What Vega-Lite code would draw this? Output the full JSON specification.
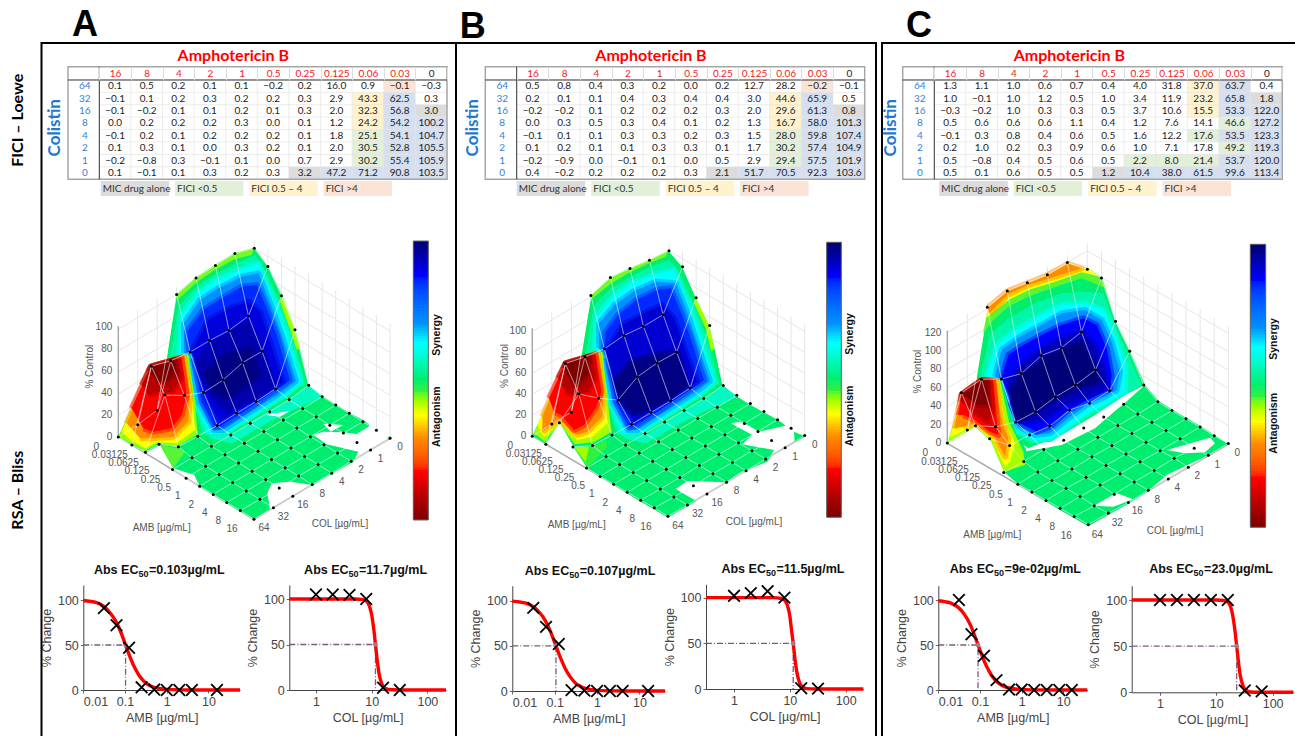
{"$schema":"https://vega.github.io/schema/vega-lite/v6.json","width":1295,"height":736,"autosize":"none","padding":0,"background":"white",
"config":{"view":{"stroke":null},"axis":{"grid":false,"domainColor":"#444","tickColor":"#666","tickSize":3,"labelOverlap":false}},
"datasets":{
"one":[{}],
"bar":[{"t":[0,1,2,3,4,5,6,7,8,9,10,11,12,13,14,15,16,17,18,19,20,21,22,23,24,25,26,27,28,29,30,31,32,33,34,35,36,37,38,39,40,41,42,43,44,45,46,47,48,49,50,51,52,53,54,55,56,57,58,59,60,61,62,63,64,65,66,67,68,69,70,71,72,73,74,75,76,77,78,79,80,81,82,83,84,85,86,87,88,89,90,91,92,93,94,95,96,97,98,99],"e":[2,3,4,5,6,7,8,9,10,11,12,13,14,15,16,17,18,19,20,21,22,23,24,25,26,27,28,29,30,31,32,33,34,35,36,37,38,39,40,41,42,43,44,45,46,47,48,49,50,51,52,53,54,55,56,57,58,59,60,61,62,63,64,65,66,67,68,69,70,71,72,73,74,75,76,77,78,79,80,81,82,83,84,85,86,87,88,89,90,91,92,93,94,95,96,97,98,99,100,100]}],
"chips":[{"t":"MIC drug alone","k":1,"g":"l"},{"t":"FICI <0.5","k":2,"g":"l"},{"t":"FICI 0.5 – 4","k":3,"g":"l"},{"t":"FICI >4","k":4,"g":"l"}],
"tA":[
{"c":"64","j":7,"a":["16","8","4","2","1","0.5","0.25","0.125","0.06","0.03","0"],"i":[10,9,8,7,6,5,4,3,2,1,0],"v":[0.1,0.5,0.2,0.1,0.1,-0.2,0.2,16.0,0.9,-0.1,-0.3],"k":[0,0,0,0,0,0,0,0,0,4,0]},
{"c":"32","j":6,"a":["16","8","4","2","1","0.5","0.25","0.125","0.06","0.03","0"],"i":[10,9,8,7,6,5,4,3,2,1,0],"v":[-0.1,0.1,0.2,0.3,0.2,0.2,0.3,2.9,43.3,62.5,0.3],"k":[0,0,0,0,0,0,0,0,3,5,0]},
{"c":"16","j":5,"a":["16","8","4","2","1","0.5","0.25","0.125","0.06","0.03","0"],"i":[10,9,8,7,6,5,4,3,2,1,0],"v":[-0.1,-0.2,0.1,0.1,0.2,0.1,0.3,2.0,32.3,56.8,3.0],"k":[0,0,0,0,0,0,0,0,3,5,1]},
{"c":"8","j":4,"a":["16","8","4","2","1","0.5","0.25","0.125","0.06","0.03","0"],"i":[10,9,8,7,6,5,4,3,2,1,0],"v":[0.0,0.2,0.2,0.2,0.3,0.0,0.1,1.2,24.2,54.2,100.2],"k":[0,0,0,0,0,0,0,0,3,5,5]},
{"c":"4","j":3,"a":["16","8","4","2","1","0.5","0.25","0.125","0.06","0.03","0"],"i":[10,9,8,7,6,5,4,3,2,1,0],"v":[-0.1,0.2,0.1,0.2,0.2,0.2,0.1,1.8,25.1,54.1,104.7],"k":[0,0,0,0,0,0,0,0,2,5,5]},
{"c":"2","j":2,"a":["16","8","4","2","1","0.5","0.25","0.125","0.06","0.03","0"],"i":[10,9,8,7,6,5,4,3,2,1,0],"v":[0.1,0.3,0.1,0.0,0.3,0.2,0.1,2.0,30.5,52.8,105.5],"k":[0,0,0,0,0,0,0,0,2,5,5]},
{"c":"1","j":1,"a":["16","8","4","2","1","0.5","0.25","0.125","0.06","0.03","0"],"i":[10,9,8,7,6,5,4,3,2,1,0],"v":[-0.2,-0.8,0.3,-0.1,0.1,0.0,0.7,2.9,30.2,55.4,105.9],"k":[0,0,0,0,0,0,0,0,2,5,5]},
{"c":"0","j":0,"a":["16","8","4","2","1","0.5","0.25","0.125","0.06","0.03","0"],"i":[10,9,8,7,6,5,4,3,2,1,0],"v":[0.1,-0.1,0.1,0.3,0.2,0.3,3.2,47.2,71.2,90.8,103.5],"k":[0,0,0,0,0,0,1,5,5,5,5]}],
"tB":[
{"c":"64","j":7,"a":["16","8","4","2","1","0.5","0.25","0.125","0.06","0.03","0"],"i":[10,9,8,7,6,5,4,3,2,1,0],"v":[0.5,0.8,0.4,0.3,0.2,0.0,0.2,12.7,28.2,-0.2,-0.1],"k":[0,0,0,0,0,0,0,0,0,4,0]},
{"c":"32","j":6,"a":["16","8","4","2","1","0.5","0.25","0.125","0.06","0.03","0"],"i":[10,9,8,7,6,5,4,3,2,1,0],"v":[0.2,0.1,0.1,0.4,0.3,0.4,0.4,3.0,44.6,65.9,0.5],"k":[0,0,0,0,0,0,0,0,3,5,0]},
{"c":"16","j":5,"a":["16","8","4","2","1","0.5","0.25","0.125","0.06","0.03","0"],"i":[10,9,8,7,6,5,4,3,2,1,0],"v":[-0.2,-0.2,0.1,0.2,0.2,0.2,0.3,2.0,29.6,61.3,0.8],"k":[0,0,0,0,0,0,0,0,3,5,1]},
{"c":"8","j":4,"a":["16","8","4","2","1","0.5","0.25","0.125","0.06","0.03","0"],"i":[10,9,8,7,6,5,4,3,2,1,0],"v":[0.0,0.3,0.5,0.3,0.4,0.1,0.2,1.3,16.7,58.0,101.3],"k":[0,0,0,0,0,0,0,0,3,5,5]},
{"c":"4","j":3,"a":["16","8","4","2","1","0.5","0.25","0.125","0.06","0.03","0"],"i":[10,9,8,7,6,5,4,3,2,1,0],"v":[-0.1,0.1,0.1,0.3,0.3,0.2,0.3,1.5,28.0,59.8,107.4],"k":[0,0,0,0,0,0,0,0,2,5,5]},
{"c":"2","j":2,"a":["16","8","4","2","1","0.5","0.25","0.125","0.06","0.03","0"],"i":[10,9,8,7,6,5,4,3,2,1,0],"v":[0.1,0.2,0.1,0.1,0.3,0.3,0.1,1.7,30.2,57.4,104.9],"k":[0,0,0,0,0,0,0,0,2,5,5]},
{"c":"1","j":1,"a":["16","8","4","2","1","0.5","0.25","0.125","0.06","0.03","0"],"i":[10,9,8,7,6,5,4,3,2,1,0],"v":[-0.2,-0.9,0.0,-0.1,0.1,0.0,0.5,2.9,29.4,57.5,101.9],"k":[0,0,0,0,0,0,0,0,2,5,5]},
{"c":"0","j":0,"a":["16","8","4","2","1","0.5","0.25","0.125","0.06","0.03","0"],"i":[10,9,8,7,6,5,4,3,2,1,0],"v":[0.4,-0.2,0.2,0.2,0.2,0.3,2.1,51.7,70.5,92.3,103.6],"k":[0,0,0,0,0,0,1,5,5,5,5]}],
"tC":[
{"c":"64","j":7,"a":["16","8","4","2","1","0.5","0.25","0.125","0.06","0.03","0"],"i":[10,9,8,7,6,5,4,3,2,1,0],"v":[1.3,1.1,1.0,0.6,0.7,0.4,4.0,31.8,37.0,63.7,0.4],"k":[0,0,0,0,0,0,0,0,3,5,0]},
{"c":"32","j":6,"a":["16","8","4","2","1","0.5","0.25","0.125","0.06","0.03","0"],"i":[10,9,8,7,6,5,4,3,2,1,0],"v":[1.0,-0.1,1.0,1.2,0.5,1.0,3.4,11.9,23.2,65.8,1.8],"k":[0,0,0,0,0,0,0,0,3,5,1]},
{"c":"16","j":5,"a":["16","8","4","2","1","0.5","0.25","0.125","0.06","0.03","0"],"i":[10,9,8,7,6,5,4,3,2,1,0],"v":[-0.3,-0.2,1.0,0.3,0.3,0.5,3.7,10.6,15.5,53.3,122.0],"k":[0,0,0,0,0,0,0,0,3,5,5]},
{"c":"8","j":4,"a":["16","8","4","2","1","0.5","0.25","0.125","0.06","0.03","0"],"i":[10,9,8,7,6,5,4,3,2,1,0],"v":[0.5,0.6,0.6,0.6,1.1,0.4,1.2,7.6,14.1,46.6,127.2],"k":[0,0,0,0,0,0,0,0,0,2,5]},
{"c":"4","j":3,"a":["16","8","4","2","1","0.5","0.25","0.125","0.06","0.03","0"],"i":[10,9,8,7,6,5,4,3,2,1,0],"v":[-0.1,0.3,0.8,0.4,0.6,0.5,1.6,12.2,17.6,53.5,123.3],"k":[0,0,0,0,0,0,0,0,2,5,5]},
{"c":"2","j":2,"a":["16","8","4","2","1","0.5","0.25","0.125","0.06","0.03","0"],"i":[10,9,8,7,6,5,4,3,2,1,0],"v":[0.2,1.0,0.2,0.3,0.9,0.6,1.0,7.1,17.8,49.2,119.3],"k":[0,0,0,0,0,0,0,0,0,2,5]},
{"c":"1","j":1,"a":["16","8","4","2","1","0.5","0.25","0.125","0.06","0.03","0"],"i":[10,9,8,7,6,5,4,3,2,1,0],"v":[0.5,-0.8,0.4,0.5,0.6,0.5,2.2,8.0,21.4,53.7,120.0],"k":[0,0,0,0,0,0,2,2,2,5,5]},
{"c":"0","j":0,"a":["16","8","4","2","1","0.5","0.25","0.125","0.06","0.03","0"],"i":[10,9,8,7,6,5,4,3,2,1,0],"v":[0.5,0.1,0.6,0.5,0.5,1.2,10.4,38.0,61.5,99.6,113.4],"k":[0,0,0,0,0,1,5,5,5,5,5]}],
"guides":[
{"g":"w","l":"h20","i":[0,0,10],"j":[7,0,0],"z":[20,20,20]},{"g":"w","l":"h40","i":[0,0,10],"j":[7,0,0],"z":[40,40,40]},{"g":"w","l":"h60","i":[0,0,10],"j":[7,0,0],"z":[60,60,60]},{"g":"w","l":"h80","i":[0,0,10],"j":[7,0,0],"z":[80,80,80]},{"g":"w","l":"h100","i":[0,0,10],"j":[7,0,0],"z":[100,100,100]},
{"g":"w","l":"j1","i":[0,0],"j":[1,1],"z":[0,107]},{"g":"w","l":"j2","i":[0,0],"j":[2,2],"z":[0,107]},{"g":"w","l":"j3","i":[0,0],"j":[3,3],"z":[0,107]},{"g":"w","l":"j4","i":[0,0],"j":[4,4],"z":[0,107]},{"g":"w","l":"j5","i":[0,0],"j":[5,5],"z":[0,107]},{"g":"w","l":"j6","i":[0,0],"j":[6,6],"z":[0,107]},
{"g":"w","l":"i0","i":[0,0],"j":[0,0],"z":[0,107]},{"g":"w","l":"i1","i":[1,1],"j":[0,0],"z":[0,107]},{"g":"w","l":"i2","i":[2,2],"j":[0,0],"z":[0,107]},{"g":"w","l":"i3","i":[3,3],"j":[0,0],"z":[0,107]},{"g":"w","l":"i4","i":[4,4],"j":[0,0],"z":[0,107]},{"g":"w","l":"i5","i":[5,5],"j":[0,0],"z":[0,107]},{"g":"w","l":"i6","i":[6,6],"j":[0,0],"z":[0,107]},{"g":"w","l":"i7","i":[7,7],"j":[0,0],"z":[0,107]},{"g":"w","l":"i8","i":[8,8],"j":[0,0],"z":[0,107]},{"g":"w","l":"i9","i":[9,9],"j":[0,0],"z":[0,107]},{"g":"w","l":"i10","i":[10,10],"j":[0,0],"z":[0,107]},
{"g":"e","l":"floor","i":[0,10,10],"j":[7,7,0],"z":[0,0,0]},{"g":"e","l":"zaxis","i":[0,0],"j":[7,7],"z":[0,103]}],
"guidesC":[
{"g":"w","l":"h20","i":[0,0,10],"j":[7,0,0],"z":[20,20,20]},{"g":"w","l":"h40","i":[0,0,10],"j":[7,0,0],"z":[40,40,40]},{"g":"w","l":"h60","i":[0,0,10],"j":[7,0,0],"z":[60,60,60]},{"g":"w","l":"h80","i":[0,0,10],"j":[7,0,0],"z":[80,80,80]},{"g":"w","l":"h100","i":[0,0,10],"j":[7,0,0],"z":[100,100,100]},{"g":"w","l":"h120","i":[0,0,10],"j":[7,0,0],"z":[120,120,120]},
{"g":"w","l":"j1","i":[0,0],"j":[1,1],"z":[0,128]},{"g":"w","l":"j2","i":[0,0],"j":[2,2],"z":[0,128]},{"g":"w","l":"j3","i":[0,0],"j":[3,3],"z":[0,128]},{"g":"w","l":"j4","i":[0,0],"j":[4,4],"z":[0,128]},{"g":"w","l":"j5","i":[0,0],"j":[5,5],"z":[0,128]},{"g":"w","l":"j6","i":[0,0],"j":[6,6],"z":[0,128]},
{"g":"w","l":"i0","i":[0,0],"j":[0,0],"z":[0,128]},{"g":"w","l":"i1","i":[1,1],"j":[0,0],"z":[0,128]},{"g":"w","l":"i2","i":[2,2],"j":[0,0],"z":[0,128]},{"g":"w","l":"i3","i":[3,3],"j":[0,0],"z":[0,128]},{"g":"w","l":"i4","i":[4,4],"j":[0,0],"z":[0,128]},{"g":"w","l":"i5","i":[5,5],"j":[0,0],"z":[0,128]},{"g":"w","l":"i6","i":[6,6],"j":[0,0],"z":[0,128]},{"g":"w","l":"i7","i":[7,7],"j":[0,0],"z":[0,128]},{"g":"w","l":"i8","i":[8,8],"j":[0,0],"z":[0,128]},{"g":"w","l":"i9","i":[9,9],"j":[0,0],"z":[0,128]},{"g":"w","l":"i10","i":[10,10],"j":[0,0],"z":[0,128]},
{"g":"e","l":"floor","i":[0,10,10],"j":[7,7,0],"z":[0,0,0]},{"g":"e","l":"zaxis","i":[0,0],"j":[7,7],"z":[0,122]}],
"ticks":[
{"g":"a","t":"0","i":0,"j":7,"z":0},{"g":"a","t":"0.03125","i":1,"j":7,"z":0},{"g":"a","t":"0.0625","i":2,"j":7,"z":0},{"g":"a","t":"0.125","i":3,"j":7,"z":0},{"g":"a","t":"0.25","i":4,"j":7,"z":0},{"g":"a","t":"0.5","i":5,"j":7,"z":0},{"g":"a","t":"1","i":6,"j":7,"z":0},{"g":"a","t":"2","i":7,"j":7,"z":0},{"g":"a","t":"4","i":8,"j":7,"z":0},{"g":"a","t":"8","i":9,"j":7,"z":0},{"g":"a","t":"16","i":10,"j":7,"z":0},
{"g":"c","t":"0","i":10,"j":0,"z":0},{"g":"c","t":"1","i":10,"j":1,"z":0},{"g":"c","t":"2","i":10,"j":2,"z":0},{"g":"c","t":"4","i":10,"j":3,"z":0},{"g":"c","t":"8","i":10,"j":4,"z":0},{"g":"c","t":"16","i":10,"j":5,"z":0},{"g":"c","t":"32","i":10,"j":6,"z":0},{"g":"c","t":"64","i":10,"j":7,"z":0},
{"g":"z","t":"0","i":0,"j":7,"z":0},{"g":"z","t":"20","i":0,"j":7,"z":20},{"g":"z","t":"40","i":0,"j":7,"z":40},{"g":"z","t":"60","i":0,"j":7,"z":60},{"g":"z","t":"80","i":0,"j":7,"z":80},{"g":"z","t":"100","i":0,"j":7,"z":100},{"g":"z","t":"120","i":0,"j":7,"z":120}],
"polyA":[
{"k":1,"t":50,"q":[[745,450],[790,485],[830,510],[875,537],[915,558],[930,572],[890,597],[850,592],[790,590],[760,600],[800,628],[895,650],[880,680],[800,725],[758,750],[690,740],[635,745],[622,775],[630,822],[582,853],[500,805],[420,755],[403,720],[340,700],[300,630],[415,600],[575,560]]},
{"k":2,"t":50,"q":[[980,605],[995,605],[992,615]]},
{"k":3,"t":57,"q":[[470,600],[515,600],[575,560],[640,520],[690,492],[745,450],[790,485],[700,525],[620,565],[560,600],[515,625],[450,610]]},
{"k":4,"t":50,"q":[[320,375],[349,178],[408,127],[465,90],[523,55],[583,38],[625,95],[667,183],[706,285],[720,340],[745,450],[690,492],[640,520],[575,560],[515,600],[415,605],[395,500]]},
{"k":5,"t":44,"q":[[349,178],[408,127],[465,90],[523,55],[583,38],[575,60],[525,72],[465,105],[410,142],[352,195]]},
{"k":6,"t":42,"q":[[667,183],[706,285],[720,340],[708,345],[692,290],[660,200]]},
{"k":7,"t":55,"q":[[330,370],[355,215],[410,155],[470,115],[530,85],[585,60],[612,100],[655,190],[695,295],[710,345],[735,445],[685,485],[570,555],[510,595],[430,600],[400,500]]},
{"k":8,"t":63,"q":[[358,360],[365,240],[415,175],[470,135],[540,105],[595,85],[610,125],[645,205],[680,300],[700,370],[722,440],[675,478],[570,545],[500,590],[450,598],[410,505],[385,370]]},
{"k":9,"t":70,"q":[[372,355],[372,265],[420,195],[475,160],[545,125],[595,115],[635,215],[665,300],[690,380],[708,438],[665,472],[565,535],[490,585],[462,585],[418,505],[392,365]]},
{"k":10,"t":85,"q":[[388,352],[382,290],[430,225],[485,190],[545,155],[590,150],[620,220],[650,300],[675,385],[690,435],[650,463],[560,525],[480,575],[465,578],[425,500],[400,370]]},
{"k":11,"t":90,"q":[[395,350],[445,255],[510,220],[565,200],[600,230],[630,320],[655,400],[670,440],[640,458],[550,515],[480,560],[440,490],[415,400]]},
{"k":12,"t":94,"q":[[405,385],[450,330],[510,290],[565,260],[600,330],[625,400],[640,450],[585,490],[500,530],[470,500],[435,460]]},
{"k":13,"t":98,"q":[[430,420],[500,360],[570,340],[600,420],[500,490],[460,470]]},
{"k":14,"t":45,"q":[[300,630],[355,640],[375,650],[340,700]]},
{"k":15,"t":50,"q":[[175,605],[273,395],[330,380],[385,358],[395,500],[415,600],[355,640],[300,630],[260,652],[215,630]]},
{"k":16,"t":43,"q":[[175,605],[273,395],[385,358],[405,500],[413,598],[350,636],[296,625],[255,648]]},
{"k":17,"t":37,"q":[[185,590],[273,395],[378,362],[398,500],[405,585],[350,625],[290,622],[255,640],[210,615]]},
{"k":18,"t":29,"q":[[200,565],[273,395],[372,365],[390,480],[385,560],[340,605],[285,610],[240,610]]},
{"k":19,"t":17,"q":[[215,520],[273,395],[365,368],[380,480],[365,540],[335,580],[280,590],[250,580]]},
{"k":20,"t":8,"q":[[245,450],[273,395],[355,372],[365,430],[335,470],[300,470],[265,480]]},
{"k":21,"t":0,"q":[[265,410],[273,395],[345,375],[350,410],[315,440],[285,430]]}],
"polyB":[
{"k":1,"t":50,"q":[[745,450],[790,485],[830,510],[875,535],[915,555],[935,572],[855,590],[800,560],[770,565],[835,600],[805,628],[900,645],[880,680],[800,712],[755,742],[640,738],[605,762],[667,798],[582,847],[500,800],[420,750],[340,700],[300,640],[415,600],[575,560]]},
{"k":2,"t":50,"q":[[960,590],[992,604],[962,622]]},
{"k":3,"t":57,"q":[[470,600],[515,600],[575,560],[640,520],[690,492],[745,450],[790,485],[700,525],[620,565],[560,600],[515,625],[450,610]]},
{"k":4,"t":50,"q":[[322,365],[352,180],[410,127],[467,100],[525,75],[583,47],[625,95],[665,188],[706,272],[722,340],[745,450],[690,492],[640,520],[575,560],[515,600],[415,605],[395,500]]},
{"k":5,"t":44,"q":[[352,180],[410,127],[467,100],[525,75],[583,47],[575,65],[525,85],[468,112],[412,145],[356,190]]},
{"k":6,"t":42,"q":[[665,188],[706,272],[722,340],[712,350],[695,280],[660,205]]},
{"k":7,"t":55,"q":[[335,360],[358,215],[412,160],[470,125],[530,95],[585,75],[612,105],[655,195],[695,295],[710,350],[735,445],[685,485],[570,555],[510,595],[430,600],[400,500]]},
{"k":8,"t":63,"q":[[362,345],[368,245],[417,185],[472,145],[540,120],[598,105],[610,135],[645,210],[680,310],[700,380],[722,440],[675,478],[570,545],[500,590],[450,598],[410,505],[385,370]]},
{"k":9,"t":70,"q":[[375,340],[375,265],[422,210],[477,170],[545,140],[605,145],[635,220],[665,310],[690,385],[708,438],[665,472],[565,535],[490,585],[462,585],[418,505],[392,365]]},
{"k":10,"t":85,"q":[[390,340],[395,290],[432,240],[487,195],[548,165],[590,160],[620,230],[650,310],[675,390],[690,435],[650,463],[560,525],[480,575],[465,578],[425,500],[400,370]]},
{"k":11,"t":91,"q":[[395,350],[445,270],[510,235],[565,210],[600,250],[630,335],[655,405],[670,440],[640,458],[550,515],[480,560],[440,500],[410,400]]},
{"k":12,"t":98,"q":[[420,440],[470,380],[540,360],[610,350],[640,450],[590,490],[500,535],[470,530],[435,495]]},
{"k":13,"t":46,"q":[[300,637],[362,632],[395,615],[400,635],[340,700]]},
{"k":14,"t":42,"q":[[300,637],[345,635],[335,680]]},
{"k":15,"t":50,"q":[[175,603],[275,385],[335,365],[385,350],[400,500],[415,600],[362,632],[300,637],[257,565],[215,628]]},
{"k":16,"t":42,"q":[[180,595],[275,385],[385,350],[402,500],[412,590],[360,622],[302,628],[257,565],[212,620]]},
{"k":17,"t":37,"q":[[190,570],[275,385],[378,353],[395,495],[400,565],[355,605],[310,615],[257,563],[210,605]]},
{"k":18,"t":29,"q":[[205,545],[275,385],[372,355],[388,480],[385,545],[340,590],[310,600],[257,555],[205,590]]},
{"k":19,"t":17,"q":[[225,490],[275,385],[365,358],[382,470],[365,520],[330,570],[300,585],[262,540],[240,530]]},
{"k":20,"t":8,"q":[[252,430],[275,385],[355,362],[365,430],[340,470],[300,480],[275,470]]},
{"k":21,"t":0,"q":[[270,400],[275,385],[345,365],[340,420],[310,450],[290,440]]}],
"polyC":[
{"k":1,"t":50,"q":[[750,450],[790,497],[830,523],[875,549],[915,572],[958,600],[1000,627],[930,665],[815,720],[760,768],[690,812],[580,872],[490,822],[410,772],[365,745],[328,712],[385,650],[500,630],[600,580]]},
{"k":2,"t":50,"q":[[245,430],[279,218],[338,168],[398,145],[458,120],[520,87],[578,100],[621,128],[662,260],[705,348],[750,450],[690,480],[600,540],[500,600],[400,640],[340,600],[300,500]]},
{"k":3,"t":45,"q":[[262,300],[279,218],[338,168],[398,145],[458,120],[520,87],[578,100],[621,128],[632,160],[560,130],[470,160],[400,185],[340,215],[290,260]]},
{"k":4,"t":37,"q":[[272,250],[279,218],[338,168],[398,145],[458,120],[520,87],[578,100],[615,125],[560,112],[480,140],[400,165],[340,195]]},
{"k":5,"t":29,"q":[[279,218],[338,168],[398,145],[458,120],[520,87],[560,100],[480,125],[400,150],[340,178],[283,235]]},
{"k":6,"t":55,"q":[[255,430],[285,300],[340,250],[420,205],[500,175],[570,170],[625,175],[660,270],[700,360],[740,452],[685,480],[600,520],[530,575],[470,620],[410,625],[350,590],[310,530]]},
{"k":7,"t":63,"q":[[275,425],[305,330],[360,285],[430,245],[500,210],[570,205],[625,225],[655,290],[690,390],[690,470],[640,505],[580,535],[530,570],[470,610],[420,615],[360,580],[325,510]]},
{"k":8,"t":70,"q":[[300,425],[320,345],[375,305],[440,270],[500,235],[570,225],[620,255],[650,320],[675,410],[665,465],[630,485],[575,510],[520,550],[465,595],[420,600],[370,575],[340,510]]},
{"k":9,"t":87,"q":[[320,430],[340,360],[385,330],[440,300],[500,270],[565,250],[605,270],[635,340],[650,420],[645,462],[590,490],[520,525],[465,575],[425,590],[375,565],[350,505]]},
{"k":10,"t":93,"q":[[335,440],[385,385],[440,340],[500,310],[562,290],[600,330],[630,410],[640,455],[585,480],[520,505],[450,550],[400,560],[370,555],[345,500]]},
{"k":11,"t":99,"q":[[345,470],[385,415],[440,375],[500,345],[560,320],[600,400],[615,440],[545,460],[485,490],[420,530],[370,560],[355,520]]},
{"k":12,"t":50,"q":[[157,625],[200,478],[260,435],[320,435],[350,550],[365,600],[392,640],[405,695],[350,720],[328,712],[285,615],[240,575],[215,590]]},
{"k":13,"t":42,"q":[[157,625],[200,478],[260,435],[315,435],[342,560],[385,650],[390,690],[345,705],[328,710],[285,615],[240,575],[215,590]]},
{"k":14,"t":37,"q":[[165,608],[200,478],[260,435],[310,435],[330,560],[360,625],[345,680],[330,695],[290,610],[240,572],[210,585]]},
{"k":15,"t":29,"q":[[178,580],[200,478],[260,435],[303,435],[318,550],[340,610],[330,665],[295,600],[240,565],[205,575]]},
{"k":16,"t":17,"q":[[190,540],[200,478],[260,435],[295,437],[305,550],[310,600],[285,590],[240,555],[205,540]]},
{"k":17,"t":8,"q":[[198,500],[200,478],[260,435],[285,437],[292,520],[280,560],[235,530]]},
{"k":18,"t":0,"q":[[205,478],[260,437],[278,440],[278,510],[245,510]]}],
"holeA":[{"k":1,"q":[[790,566],[850,570],[812,590]]},{"k":2,"q":[[618,540],[690,527],[660,545]]}],
"holeC":[{"k":1,"q":[[815,645],[945,608],[960,625],[930,652],[870,655]]},{"k":2,"q":[[598,812],[665,775],[715,793],[655,815]]}],
"labA":[{"g":"h","t":"AMB [µg/mL]","q":[305,878]},{"g":"h","t":"COL [µg/mL]","q":[840,868]},{"g":"r","t":"% Control","q":[90,395]},{"g":"b","t":"Synergy","q":[1130,300]},{"g":"b","t":"Antagonism","q":[1130,545]}],
"labB":[{"g":"h","t":"AMB [µg/mL]","q":[308,870]},{"g":"h","t":"COL [µg/mL]","q":[840,860]},{"g":"r","t":"% Control","q":[92,393]},{"g":"b","t":"Synergy","q":[1127,297]},{"g":"b","t":"Antagonism","q":[1127,543]}],
"labC":[{"g":"h","t":"AMB [µg/mL]","q":[292,900]},{"g":"h","t":"COL [µg/mL]","q":[840,888]},{"g":"r","t":"% Control","q":[70,410]},{"g":"b","t":"Synergy","q":[1137,312]},{"g":"b","t":"Antagonism","q":[1137,565]}]
},
"resolve":{"scale":{"x":"independent","y":"independent","fill":"independent","color":"independent","stroke":"independent"},"axis":{"x":"independent","y":"independent"}},
"layer":[
{"data":{"name":"one"},"encoding":{"x":{"datum":0,"type":"quantitative","axis":null,"scale":{"domain":[0,1],"range":[41.5,456],"nice":false,"zero":false}},"y":{"datum":0,"type":"quantitative","axis":null,"scale":{"domain":[0,1],"range":[43,745],"nice":false,"zero":false}}},"layer":[
{"mark":{"type":"rect","fill":null,"stroke":"#000","strokeWidth":2},"encoding":{"x2":{"datum":1},"y2":{"datum":1}}},
{"mark":{"type":"text","text":"A","font":"Liberation Sans","fontWeight":"bold","fontSize":36,"color":"#000"},"encoding":{"x":{"datum":0.105,"type":"quantitative"},"y":{"datum":-0.0256,"type":"quantitative"}}},
{"mark":{"type":"text","text":"FICI – Loewe","font":"Lato","fontWeight":"bold","fontSize":16,"color":"#000","angle":270},"encoding":{"x":{"datum":-0.0567,"type":"quantitative"},"y":{"datum":0.11,"type":"quantitative"}}},
{"mark":{"type":"text","text":"RSA – Bliss","font":"Lato","fontWeight":"bold","fontSize":16,"color":"#000","angle":270},"encoding":{"x":{"datum":-0.0567,"type":"quantitative"},"y":{"datum":0.637,"type":"quantitative"}}}]},
{"data":{"name":"one"},"encoding":{"x":{"datum":0,"type":"quantitative","axis":null,"scale":{"domain":[0,1],"range":[456,876],"nice":false,"zero":false}},"y":{"datum":0,"type":"quantitative","axis":null,"scale":{"domain":[0,1],"range":[43,745],"nice":false,"zero":false}}},"layer":[
{"mark":{"type":"rect","fill":null,"stroke":"#000","strokeWidth":2},"encoding":{"x2":{"datum":1},"y2":{"datum":1}}},
{"mark":{"type":"text","text":"B","font":"Liberation Sans","fontWeight":"bold","fontSize":36,"color":"#000"},"encoding":{"x":{"datum":0.04,"type":"quantitative"},"y":{"datum":-0.0228,"type":"quantitative"}}}]},
{"data":{"name":"one"},"encoding":{"x":{"datum":0,"type":"quantitative","axis":null,"scale":{"domain":[0,1],"range":[882,1300],"nice":false,"zero":false}},"y":{"datum":0,"type":"quantitative","axis":null,"scale":{"domain":[0,1],"range":[43,745],"nice":false,"zero":false}}},"layer":[
{"mark":{"type":"rect","fill":null,"stroke":"#000","strokeWidth":2},"encoding":{"x2":{"datum":1},"y2":{"datum":1}}},
{"mark":{"type":"text","text":"C","font":"Liberation Sans","fontWeight":"bold","fontSize":36,"color":"#000"},"encoding":{"x":{"datum":0.0885,"type":"quantitative"},"y":{"datum":-0.0245,"type":"quantitative"}}}]},

{"data":{"name":"tA"},"transform":[{"flatten":["a","i","v","k"]}],"encoding":{"x":{"field":"a","type":"nominal","scale":{"type":"band","domain":["16","8","4","2","1","0.5","0.25","0.125","0.06","0.03","0"],"range":[99.3,447],"padding":0},"axis":{"orient":"top","offset":-80,"title":null,"domain":false,"tickBand":"extent","tickSize":13,"tickColor":"#dddddd","labelAngle":0,"labelPadding":-6.5,"labelBaseline":"middle","labelFont":"Lato","labelFontSize":10,"labelColor":{"expr":"datum.value=='0'?'#222':'#ee1c25'"}}},"y":{"field":"c","type":"nominal","scale":{"type":"band","domain":["64","32","16","8","4","2","1","0"],"range":[80,179.3],"padding":0},"axis":{"orient":"left","offset":-99.3,"title":null,"domain":false,"ticks":false,"labelFont":"Lato","labelFontSize":10,"labelAlign":"center","labelPadding":15,"labelColor":"#2f7fe0"}}},"layer":[
{"mark":{"type":"rect","stroke":"#e2e2e2","strokeWidth":0.5},"encoding":{"fill":{"field":"k","type":"nominal","scale":{"domain":[0,1,2,3,4,5],"range":["#ffffff","#dcdcdc","#e2efd9","#fff2cc","#fbe4d5","#d5dff0"]},"legend":null}}},
{"mark":{"type":"text","font":"Lato","fontSize":10,"color":"#222"},"encoding":{"text":{"field":"v","type":"quantitative","format":".1f"}}}]},
{"data":{"name":"one"},"encoding":{"x":{"datum":0,"type":"quantitative","axis":null,"scale":{"domain":[0,1],"range":[68,447],"nice":false,"zero":false}},"y":{"datum":0,"type":"quantitative","axis":null,"scale":{"domain":[0,1],"range":[179.3,66.7],"nice":false,"zero":false}}},"layer":[
{"mark":{"type":"rect","fill":null,"stroke":"#a6a6a6","strokeWidth":1.5},"encoding":{"x2":{"datum":1},"y2":{"datum":1}}},
{"mark":{"type":"rule","stroke":"#333","strokeWidth":1},"encoding":{"x":{"datum":0.0826,"type":"quantitative"},"y2":{"datum":1}}},
{"mark":{"type":"rule","stroke":"#333","strokeWidth":1},"encoding":{"y":{"datum":0.882,"type":"quantitative"},"x2":{"datum":1}}},
{"mark":{"type":"text","text":"Amphotericin B","font":"Lato","fontWeight":"bold","fontSize":16,"color":"#ff0000"},"encoding":{"x":{"datum":0.436,"type":"quantitative"},"y":{"datum":1.095,"type":"quantitative"}}},
{"mark":{"type":"text","text":"Colistin","font":"Lato","fontWeight":"bold","fontSize":17,"color":"#1f78d1","angle":270},"encoding":{"x":{"datum":-0.0343,"type":"quantitative"},"y":{"datum":0.458,"type":"quantitative"}}}]},
{"data":{"name":"chips"},"encoding":{"x":{"field":"t","type":"nominal","axis":null,"scale":{"type":"band","domain":["MIC drug alone","FICI <0.5","FICI 0.5 – 4","FICI >4"],"range":[100.7,392],"paddingInner":0.08,"paddingOuter":0}},"y":{"field":"g","type":"nominal","axis":null,"scale":{"type":"band","domain":["l"],"range":[181,196],"padding":0}}},"layer":[
{"mark":{"type":"rect"},"encoding":{"fill":{"field":"k","type":"nominal","scale":{"domain":[1,2,3,4],"range":["#dcdcdc","#e2efd9","#fff2cc","#fbe4d5"]},"legend":null}}},
{"mark":{"type":"text","font":"Lato","fontSize":10,"color":"#333","align":"left","dx":2},"encoding":{"x":{"field":"t","type":"nominal","bandPosition":0},"text":{"field":"t"}}}]},

{"data":{"name":"tB"},"transform":[{"flatten":["a","i","v","k"]}],"encoding":{"x":{"field":"a","type":"nominal","scale":{"type":"band","domain":["16","8","4","2","1","0.5","0.25","0.125","0.06","0.03","0"],"range":[516.7,864.7],"padding":0},"axis":{"orient":"top","offset":-80,"title":null,"domain":false,"tickBand":"extent","tickSize":13,"tickColor":"#dddddd","labelAngle":0,"labelPadding":-6.5,"labelBaseline":"middle","labelFont":"Lato","labelFontSize":10,"labelColor":{"expr":"datum.value=='0'?'#222':'#ee1c25'"}}},"y":{"field":"c","type":"nominal","scale":{"type":"band","domain":["64","32","16","8","4","2","1","0"],"range":[80,179.3],"padding":0},"axis":{"orient":"left","offset":-516.7,"title":null,"domain":false,"ticks":false,"labelFont":"Lato","labelFontSize":10,"labelAlign":"center","labelPadding":15,"labelColor":"#2f7fe0"}}},"layer":[
{"mark":{"type":"rect","stroke":"#e2e2e2","strokeWidth":0.5},"encoding":{"fill":{"field":"k","type":"nominal","scale":{"domain":[0,1,2,3,4,5],"range":["#ffffff","#dcdcdc","#e2efd9","#fff2cc","#fbe4d5","#d5dff0"]},"legend":null}}},
{"mark":{"type":"text","font":"Lato","fontSize":10,"color":"#222"},"encoding":{"text":{"field":"v","type":"quantitative","format":".1f"}}}]},
{"data":{"name":"one"},"encoding":{"x":{"datum":0,"type":"quantitative","axis":null,"scale":{"domain":[0,1],"range":[485.3,864.7],"nice":false,"zero":false}},"y":{"datum":0,"type":"quantitative","axis":null,"scale":{"domain":[0,1],"range":[179.3,66.7],"nice":false,"zero":false}}},"layer":[
{"mark":{"type":"rect","fill":null,"stroke":"#a6a6a6","strokeWidth":1.5},"encoding":{"x2":{"datum":1},"y2":{"datum":1}}},
{"mark":{"type":"rule","stroke":"#333","strokeWidth":1},"encoding":{"x":{"datum":0.0828,"type":"quantitative"},"y2":{"datum":1}}},
{"mark":{"type":"rule","stroke":"#333","strokeWidth":1},"encoding":{"y":{"datum":0.882,"type":"quantitative"},"x2":{"datum":1}}},
{"mark":{"type":"text","text":"Amphotericin B","font":"Lato","fontWeight":"bold","fontSize":16,"color":"#ff0000"},"encoding":{"x":{"datum":0.4367,"type":"quantitative"},"y":{"datum":1.095,"type":"quantitative"}}},
{"mark":{"type":"text","text":"Colistin","font":"Lato","fontWeight":"bold","fontSize":17,"color":"#1f78d1","angle":270},"encoding":{"x":{"datum":-0.0332,"type":"quantitative"},"y":{"datum":0.458,"type":"quantitative"}}}]},
{"data":{"name":"chips"},"encoding":{"x":{"field":"t","type":"nominal","axis":null,"scale":{"type":"band","domain":["MIC drug alone","FICI <0.5","FICI 0.5 – 4","FICI >4"],"range":[516.7,808.7],"paddingInner":0.08,"paddingOuter":0}},"y":{"field":"g","type":"nominal","axis":null,"scale":{"type":"band","domain":["l"],"range":[181,196],"padding":0}}},"layer":[
{"mark":{"type":"rect"},"encoding":{"fill":{"field":"k","type":"nominal","scale":{"domain":[1,2,3,4],"range":["#dcdcdc","#e2efd9","#fff2cc","#fbe4d5"]},"legend":null}}},
{"mark":{"type":"text","font":"Lato","fontSize":10,"color":"#333","align":"left","dx":2},"encoding":{"x":{"field":"t","type":"nominal","bandPosition":0},"text":{"field":"t"}}}]},

{"data":{"name":"tC"},"transform":[{"flatten":["a","i","v","k"]}],"encoding":{"x":{"field":"a","type":"nominal","scale":{"type":"band","domain":["16","8","4","2","1","0.5","0.25","0.125","0.06","0.03","0"],"range":[934.3,1282.3],"padding":0},"axis":{"orient":"top","offset":-80,"title":null,"domain":false,"tickBand":"extent","tickSize":13,"tickColor":"#dddddd","labelAngle":0,"labelPadding":-6.5,"labelBaseline":"middle","labelFont":"Lato","labelFontSize":10,"labelColor":{"expr":"datum.value=='0'?'#222':'#ee1c25'"}}},"y":{"field":"c","type":"nominal","scale":{"type":"band","domain":["64","32","16","8","4","2","1","0"],"range":[80,179.3],"padding":0},"axis":{"orient":"left","offset":-934.3,"title":null,"domain":false,"ticks":false,"labelFont":"Lato","labelFontSize":10,"labelAlign":"center","labelPadding":15,"labelColor":"#2f7fe0"}}},"layer":[
{"mark":{"type":"rect","stroke":"#e2e2e2","strokeWidth":0.5},"encoding":{"fill":{"field":"k","type":"nominal","scale":{"domain":[0,1,2,3,4,5],"range":["#ffffff","#dcdcdc","#e2efd9","#fff2cc","#fbe4d5","#d5dff0"]},"legend":null}}},
{"mark":{"type":"text","font":"Lato","fontSize":10,"color":"#222"},"encoding":{"text":{"field":"v","type":"quantitative","format":".1f"}}}]},
{"data":{"name":"one"},"encoding":{"x":{"datum":0,"type":"quantitative","axis":null,"scale":{"domain":[0,1],"range":[902.7,1282.3],"nice":false,"zero":false}},"y":{"datum":0,"type":"quantitative","axis":null,"scale":{"domain":[0,1],"range":[179.3,66.7],"nice":false,"zero":false}}},"layer":[
{"mark":{"type":"rect","fill":null,"stroke":"#a6a6a6","strokeWidth":1.5},"encoding":{"x2":{"datum":1},"y2":{"datum":1}}},
{"mark":{"type":"rule","stroke":"#333","strokeWidth":1},"encoding":{"x":{"datum":0.0832,"type":"quantitative"},"y2":{"datum":1}}},
{"mark":{"type":"rule","stroke":"#333","strokeWidth":1},"encoding":{"y":{"datum":0.882,"type":"quantitative"},"x2":{"datum":1}}},
{"mark":{"type":"text","text":"Amphotericin B","font":"Lato","fontWeight":"bold","fontSize":16,"color":"#ff0000"},"encoding":{"x":{"datum":0.439,"type":"quantitative"},"y":{"datum":1.095,"type":"quantitative"}}},
{"mark":{"type":"text","text":"Colistin","font":"Lato","fontWeight":"bold","fontSize":17,"color":"#1f78d1","angle":270},"encoding":{"x":{"datum":-0.0308,"type":"quantitative"},"y":{"datum":0.458,"type":"quantitative"}}}]},
{"data":{"name":"chips"},"encoding":{"x":{"field":"t","type":"nominal","axis":null,"scale":{"type":"band","domain":["MIC drug alone","FICI <0.5","FICI 0.5 – 4","FICI >4"],"range":[939.3,1231],"paddingInner":0.08,"paddingOuter":0}},"y":{"field":"g","type":"nominal","axis":null,"scale":{"type":"band","domain":["l"],"range":[181,196],"padding":0}}},"layer":[
{"mark":{"type":"rect"},"encoding":{"fill":{"field":"k","type":"nominal","scale":{"domain":[1,2,3,4],"range":["#dcdcdc","#e2efd9","#fff2cc","#fbe4d5"]},"legend":null}}},
{"mark":{"type":"text","font":"Lato","fontSize":10,"color":"#333","align":"left","dx":2},"encoding":{"x":{"field":"t","type":"nominal","bandPosition":0},"text":{"field":"t"}}}]},

{"data":{"name":"bar"},"transform":[{"flatten":["t","e"]}],"mark":{"type":"rect"},"encoding":{"x":{"datum":0,"type":"quantitative","axis":null,"scale":{"domain":[0,1],"range":[413.3,428.3],"nice":false,"zero":false}},"x2":{"datum":1},"y":{"field":"t","type":"quantitative","axis":null,"scale":{"domain":[0,100],"range":[520,241],"nice":false,"zero":false}},"y2":{"field":"e"},"fill":{"field":"t","type":"quantitative","legend":null,"scale":{"domain":[0,8,17,29,37,43,46,50,54,63,70,87,100],"range":["#7f0000","#b80000","#ff0000","#ff8c00","#ffff00","#8cff00","#30f040","#00ee70","#00f59c","#00ffff","#0090ff","#0000ff","#00006e"]}}}},
{"data":{"name":"one"},"mark":{"type":"rect","fill":null,"stroke":"#666","strokeWidth":1},"encoding":{"x":{"datum":0,"type":"quantitative","axis":null,"scale":{"domain":[0,1],"range":[413.3,428.3],"nice":false,"zero":false}},"x2":{"datum":1},"y":{"datum":0,"type":"quantitative","axis":null,"scale":{"domain":[0,1],"range":[520,241],"nice":false,"zero":false}},"y2":{"datum":1}}},
{"data":{"name":"bar"},"transform":[{"flatten":["t","e"]}],"mark":{"type":"rect"},"encoding":{"x":{"datum":0,"type":"quantitative","axis":null,"scale":{"domain":[0,1],"range":[826.7,841.3],"nice":false,"zero":false}},"x2":{"datum":1},"y":{"field":"t","type":"quantitative","axis":null,"scale":{"domain":[0,100],"range":[517.3,242.3],"nice":false,"zero":false}},"y2":{"field":"e"},"fill":{"field":"t","type":"quantitative","legend":null,"scale":{"domain":[0,8,17,29,37,43,46,50,54,63,70,87,100],"range":["#7f0000","#b80000","#ff0000","#ff8c00","#ffff00","#8cff00","#30f040","#00ee70","#00f59c","#00ffff","#0090ff","#0000ff","#00006e"]}}}},
{"data":{"name":"one"},"mark":{"type":"rect","fill":null,"stroke":"#666","strokeWidth":1},"encoding":{"x":{"datum":0,"type":"quantitative","axis":null,"scale":{"domain":[0,1],"range":[826.7,841.3],"nice":false,"zero":false}},"x2":{"datum":1},"y":{"datum":0,"type":"quantitative","axis":null,"scale":{"domain":[0,1],"range":[517.3,242.3],"nice":false,"zero":false}},"y2":{"datum":1}}},
{"data":{"name":"bar"},"transform":[{"flatten":["t","e"]}],"mark":{"type":"rect"},"encoding":{"x":{"datum":0,"type":"quantitative","axis":null,"scale":{"domain":[0,1],"range":[1250.3,1265.7],"nice":false,"zero":false}},"x2":{"datum":1},"y":{"field":"t","type":"quantitative","axis":null,"scale":{"domain":[0,100],"range":[527.3,244.3],"nice":false,"zero":false}},"y2":{"field":"e"},"fill":{"field":"t","type":"quantitative","legend":null,"scale":{"domain":[0,8,17,29,37,43,46,50,54,63,70,87,100],"range":["#7f0000","#b80000","#ff0000","#ff8c00","#ffff00","#8cff00","#30f040","#00ee70","#00f59c","#00ffff","#0090ff","#0000ff","#00006e"]}}}},
{"data":{"name":"one"},"mark":{"type":"rect","fill":null,"stroke":"#666","strokeWidth":1},"encoding":{"x":{"datum":0,"type":"quantitative","axis":null,"scale":{"domain":[0,1],"range":[1250.3,1265.7],"nice":false,"zero":false}},"x2":{"datum":1},"y":{"datum":0,"type":"quantitative","axis":null,"scale":{"domain":[0,1],"range":[527.3,244.3],"nice":false,"zero":false}},"y2":{"datum":1}}},

{"encoding":{"x":{"field":"sx","type":"quantitative","axis":null,"scale":{"domain":[0,1200],"range":[60,460],"nice":false,"zero":false}},"y":{"field":"sy","type":"quantitative","axis":null,"scale":{"domain":[0,930],"range":[235,545],"nice":false,"zero":false}}},"layer":[
{"data":{"name":"guides"},"transform":[{"flatten":["i","j","z"]},{"calculate":"583+40.7*datum.i-58.3*datum.j","as":"sx"},{"calculate":"362+24.8*datum.i+34.7*datum.j-3.22*datum.z","as":"sy"}],"layer":[
{"transform":[{"filter":"datum.g=='w'"}],"mark":{"type":"line","stroke":"#e6e6e6","strokeWidth":1},"encoding":{"detail":{"field":"l","type":"nominal"},"order":{"value":null}}},
{"transform":[{"filter":"datum.g=='e'"}],"mark":{"type":"line","stroke":"#a8a8a8","strokeWidth":1.5},"encoding":{"detail":{"field":"l","type":"nominal"},"order":{"value":null}}}]},
{"data":{"name":"polyA"},"transform":[{"flatten":["q"]}],"mark":{"type":"line","strokeOpacity":0.5,"strokeJoin":"round"},"encoding":{"x":{"field":"q[0]","type":"quantitative","axis":null},"y":{"field":"q[1]","type":"quantitative","axis":null},"detail":{"field":"k","type":"nominal"},"order":{"value":null},"strokeWidth":{"condition":{"test":"datum.t>=63||datum.t<=29","value":6},"value":0},"stroke":{"field":"t","type":"quantitative","legend":null,"scale":{"domain":[0,8,17,29,37,43,46,50,54,63,70,87,100],"range":["#7f0000","#b80000","#ff0000","#ff8c00","#ffff00","#8cff00","#30f040","#00ee70","#00f59c","#00ffff","#0090ff","#0000ff","#00006e"]}},"fill":{"field":"t","type":"quantitative","legend":null,"scale":{"domain":[0,8,17,29,37,43,46,50,54,63,70,87,100],"range":["#7f0000","#b80000","#ff0000","#ff8c00","#ffff00","#8cff00","#30f040","#00ee70","#00f59c","#00ffff","#0090ff","#0000ff","#00006e"]}}}},
{"data":{"name":"holeA"},"transform":[{"flatten":["q"]}],"mark":{"type":"line","stroke":null,"strokeWidth":0,"fill":"#fff"},"encoding":{"x":{"field":"q[0]","type":"quantitative","axis":null},"y":{"field":"q[1]","type":"quantitative","axis":null},"detail":{"field":"k","type":"nominal"},"order":{"value":null}}},
{"data":{"name":"tA"},"transform":[{"flatten":["a","i","v","k"]},{"calculate":"datum.i==0&&datum.j==0?100:datum.v","as":"z"},{"calculate":"583+40.7*datum.i-58.3*datum.j","as":"sx"},{"calculate":"362+24.8*datum.i+34.7*datum.j-3.22*datum.z","as":"sy"}],"layer":[
{"mark":{"type":"line","stroke":"#fff","strokeWidth":1,"opacity":0.55},"encoding":{"detail":{"field":"i","type":"nominal"},"order":{"field":"j","type":"quantitative"}}},
{"mark":{"type":"line","stroke":"#fff","strokeWidth":1,"opacity":0.55},"encoding":{"detail":{"field":"j","type":"nominal"},"order":{"field":"i","type":"quantitative"}}},
{"mark":{"type":"circle","size":9,"color":"#000","opacity":1}}]},
{"data":{"name":"ticks"},"transform":[{"filter":"datum.z<=100"},{"calculate":"583+40.7*datum.i-58.3*datum.j","as":"sx"},{"calculate":"362+24.8*datum.i+34.7*datum.j-3.29*datum.z","as":"sy"}],"encoding":{"text":{"field":"t","type":"nominal"}},"layer":[
{"transform":[{"filter":"datum.g=='a'"}],"mark":{"type":"text","font":"Liberation Sans","fontSize":10,"color":"#555","dx":-22,"dy":10}},
{"transform":[{"filter":"datum.g=='c'"}],"mark":{"type":"text","font":"Liberation Sans","fontSize":10,"color":"#555","dx":10,"dy":9}},
{"transform":[{"filter":"datum.g=='z'"}],"mark":{"type":"text","font":"Liberation Sans","fontSize":10,"color":"#555","dx":-6,"align":"right"}}]},
{"data":{"name":"labA"},"encoding":{"x":{"field":"q[0]","type":"quantitative","axis":null},"y":{"field":"q[1]","type":"quantitative","axis":null},"text":{"field":"t","type":"nominal"}},"layer":[
{"transform":[{"filter":"datum.g=='h'"}],"mark":{"type":"text","font":"Liberation Sans","fontSize":10,"color":"#555"}},
{"transform":[{"filter":"datum.g=='r'"}],"mark":{"type":"text","font":"Liberation Sans","fontSize":10,"color":"#555","angle":270}},
{"transform":[{"filter":"datum.g=='b'"}],"mark":{"type":"text","font":"Liberation Sans","fontWeight":"bold","fontSize":10.5,"color":"#111","angle":270}}]}]},

{"encoding":{"x":{"field":"sx","type":"quantitative","axis":null,"scale":{"domain":[0,1200],"range":[474,874],"nice":false,"zero":false}},"y":{"field":"sy","type":"quantitative","axis":null,"scale":{"domain":[0,930],"range":[235,545],"nice":false,"zero":false}}},"layer":[
{"data":{"name":"guides"},"transform":[{"flatten":["i","j","z"]},{"calculate":"585+40.7*datum.i-58.6*datum.j","as":"sx"},{"calculate":"361+24.2*datum.i+34.6*datum.j-3.14*datum.z","as":"sy"}],"layer":[
{"transform":[{"filter":"datum.g=='w'"}],"mark":{"type":"line","stroke":"#e6e6e6","strokeWidth":1},"encoding":{"detail":{"field":"l","type":"nominal"},"order":{"value":null}}},
{"transform":[{"filter":"datum.g=='e'"}],"mark":{"type":"line","stroke":"#a8a8a8","strokeWidth":1.5},"encoding":{"detail":{"field":"l","type":"nominal"},"order":{"value":null}}}]},
{"data":{"name":"polyB"},"transform":[{"flatten":["q"]}],"mark":{"type":"line","strokeOpacity":0.5,"strokeJoin":"round"},"encoding":{"x":{"field":"q[0]","type":"quantitative","axis":null},"y":{"field":"q[1]","type":"quantitative","axis":null},"detail":{"field":"k","type":"nominal"},"order":{"value":null},"strokeWidth":{"condition":{"test":"datum.t>=63||datum.t<=29","value":6},"value":0},"stroke":{"field":"t","type":"quantitative","legend":null,"scale":{"domain":[0,8,17,29,37,43,46,50,54,63,70,87,100],"range":["#7f0000","#b80000","#ff0000","#ff8c00","#ffff00","#8cff00","#30f040","#00ee70","#00f59c","#00ffff","#0090ff","#0000ff","#00006e"]}},"fill":{"field":"t","type":"quantitative","legend":null,"scale":{"domain":[0,8,17,29,37,43,46,50,54,63,70,87,100],"range":["#7f0000","#b80000","#ff0000","#ff8c00","#ffff00","#8cff00","#30f040","#00ee70","#00f59c","#00ffff","#0090ff","#0000ff","#00006e"]}}}},
{"data":{"name":"tB"},"transform":[{"flatten":["a","i","v","k"]},{"calculate":"datum.i==0&&datum.j==0?100:datum.v","as":"z"},{"calculate":"585+40.7*datum.i-58.6*datum.j","as":"sx"},{"calculate":"361+24.2*datum.i+34.6*datum.j-3.14*datum.z","as":"sy"}],"layer":[
{"mark":{"type":"line","stroke":"#fff","strokeWidth":1,"opacity":0.55},"encoding":{"detail":{"field":"i","type":"nominal"},"order":{"field":"j","type":"quantitative"}}},
{"mark":{"type":"line","stroke":"#fff","strokeWidth":1,"opacity":0.55},"encoding":{"detail":{"field":"j","type":"nominal"},"order":{"field":"i","type":"quantitative"}}},
{"mark":{"type":"circle","size":9,"color":"#000","opacity":1}}]},
{"data":{"name":"ticks"},"transform":[{"filter":"datum.z<=100"},{"calculate":"585+40.7*datum.i-58.6*datum.j","as":"sx"},{"calculate":"361+24.2*datum.i+34.6*datum.j-3.14*datum.z","as":"sy"}],"encoding":{"text":{"field":"t","type":"nominal"}},"layer":[
{"transform":[{"filter":"datum.g=='a'"}],"mark":{"type":"text","font":"Liberation Sans","fontSize":10,"color":"#555","dx":-22,"dy":10}},
{"transform":[{"filter":"datum.g=='c'"}],"mark":{"type":"text","font":"Liberation Sans","fontSize":10,"color":"#555","dx":10,"dy":9}},
{"transform":[{"filter":"datum.g=='z'"}],"mark":{"type":"text","font":"Liberation Sans","fontSize":10,"color":"#555","dx":-6,"align":"right"}}]},
{"data":{"name":"labB"},"encoding":{"x":{"field":"q[0]","type":"quantitative","axis":null},"y":{"field":"q[1]","type":"quantitative","axis":null},"text":{"field":"t","type":"nominal"}},"layer":[
{"transform":[{"filter":"datum.g=='h'"}],"mark":{"type":"text","font":"Liberation Sans","fontSize":10,"color":"#555"}},
{"transform":[{"filter":"datum.g=='r'"}],"mark":{"type":"text","font":"Liberation Sans","fontSize":10,"color":"#555","angle":270}},
{"transform":[{"filter":"datum.g=='b'"}],"mark":{"type":"text","font":"Liberation Sans","fontWeight":"bold","fontSize":10.5,"color":"#111","angle":270}}]}]},

{"encoding":{"x":{"field":"sx","type":"quantitative","axis":null,"scale":{"domain":[0,1200],"range":[895,1295],"nice":false,"zero":false}},"y":{"field":"sy","type":"quantitative","axis":null,"scale":{"domain":[0,930],"range":[235,545],"nice":false,"zero":false}}},"layer":[
{"data":{"name":"guidesC"},"transform":[{"flatten":["i","j","z"]},{"calculate":"577+42.3*datum.i-60*datum.j","as":"sx"},{"calculate":"380+24.7*datum.i+35*datum.j-2.77*datum.z","as":"sy"}],"layer":[
{"transform":[{"filter":"datum.g=='w'"}],"mark":{"type":"line","stroke":"#e6e6e6","strokeWidth":1},"encoding":{"detail":{"field":"l","type":"nominal"},"order":{"value":null}}},
{"transform":[{"filter":"datum.g=='e'"}],"mark":{"type":"line","stroke":"#a8a8a8","strokeWidth":1.5},"encoding":{"detail":{"field":"l","type":"nominal"},"order":{"value":null}}}]},
{"data":{"name":"polyC"},"transform":[{"flatten":["q"]}],"mark":{"type":"line","strokeOpacity":0.5,"strokeJoin":"round"},"encoding":{"x":{"field":"q[0]","type":"quantitative","axis":null},"y":{"field":"q[1]","type":"quantitative","axis":null},"detail":{"field":"k","type":"nominal"},"order":{"value":null},"strokeWidth":{"condition":{"test":"datum.t>=63||datum.t<=29","value":6},"value":0},"stroke":{"field":"t","type":"quantitative","legend":null,"scale":{"domain":[0,8,17,29,37,43,46,50,54,63,70,87,100],"range":["#7f0000","#b80000","#ff0000","#ff8c00","#ffff00","#8cff00","#30f040","#00ee70","#00f59c","#00ffff","#0090ff","#0000ff","#00006e"]}},"fill":{"field":"t","type":"quantitative","legend":null,"scale":{"domain":[0,8,17,29,37,43,46,50,54,63,70,87,100],"range":["#7f0000","#b80000","#ff0000","#ff8c00","#ffff00","#8cff00","#30f040","#00ee70","#00f59c","#00ffff","#0090ff","#0000ff","#00006e"]}}}},
{"data":{"name":"holeC"},"transform":[{"flatten":["q"]}],"mark":{"type":"line","stroke":null,"strokeWidth":0,"fill":"#fff"},"encoding":{"x":{"field":"q[0]","type":"quantitative","axis":null},"y":{"field":"q[1]","type":"quantitative","axis":null},"detail":{"field":"k","type":"nominal"},"order":{"value":null}}},
{"data":{"name":"tC"},"transform":[{"flatten":["a","i","v","k"]},{"calculate":"datum.i==0&&datum.j==0?100:datum.v","as":"z"},{"calculate":"577+42.3*datum.i-60*datum.j","as":"sx"},{"calculate":"380+24.7*datum.i+35*datum.j-2.77*datum.z","as":"sy"}],"layer":[
{"mark":{"type":"line","stroke":"#fff","strokeWidth":1,"opacity":0.55},"encoding":{"detail":{"field":"i","type":"nominal"},"order":{"field":"j","type":"quantitative"}}},
{"mark":{"type":"line","stroke":"#fff","strokeWidth":1,"opacity":0.55},"encoding":{"detail":{"field":"j","type":"nominal"},"order":{"field":"i","type":"quantitative"}}},
{"mark":{"type":"circle","size":9,"color":"#000","opacity":1}}]},
{"data":{"name":"ticks"},"transform":[{"calculate":"577+42.3*datum.i-60*datum.j","as":"sx"},{"calculate":"380+24.7*datum.i+35*datum.j-2.77*datum.z","as":"sy"}],"encoding":{"text":{"field":"t","type":"nominal"}},"layer":[
{"transform":[{"filter":"datum.g=='a'"}],"mark":{"type":"text","font":"Liberation Sans","fontSize":10,"color":"#555","dx":-22,"dy":10}},
{"transform":[{"filter":"datum.g=='c'"}],"mark":{"type":"text","font":"Liberation Sans","fontSize":10,"color":"#555","dx":9,"dy":9}},
{"transform":[{"filter":"datum.g=='z'"}],"mark":{"type":"text","font":"Liberation Sans","fontSize":10,"color":"#555","dx":-6,"align":"right"}}]},
{"data":{"name":"labC"},"encoding":{"x":{"field":"q[0]","type":"quantitative","axis":null},"y":{"field":"q[1]","type":"quantitative","axis":null},"text":{"field":"t","type":"nominal"}},"layer":[
{"transform":[{"filter":"datum.g=='h'"}],"mark":{"type":"text","font":"Liberation Sans","fontSize":10,"color":"#555"}},
{"transform":[{"filter":"datum.g=='r'"}],"mark":{"type":"text","font":"Liberation Sans","fontSize":10,"color":"#555","angle":270}},
{"transform":[{"filter":"datum.g=='b'"}],"mark":{"type":"text","font":"Liberation Sans","fontWeight":"bold","fontSize":10.5,"color":"#111","angle":270}}]}]},

{"encoding":{"x":{"field":"x","type":"quantitative","scale":{"type":"log","domain":[0.01,57],"range":[83.3,240],"nice":false},"axis":{"orient":"bottom","offset":-46,"values":[0.01,0.1,1,10],"format":"~g","title":"AMB [µg/mL]","titlePadding":4,"labelFont":"Liberation Sans","titleFont":"Liberation Sans","labelFontSize":12.5,"titleFontSize":12.5,"titleFontWeight":"normal","labelColor":"#444","titleColor":"#444"}},"y":{"field":"y","type":"quantitative","scale":{"domain":[0,116.7],"range":[690,585],"nice":false},"axis":{"orient":"left","offset":-83.3,"values":[0,50,100],"title":"% Change","titlePadding":4,"labelFont":"Liberation Sans","titleFont":"Liberation Sans","labelFontSize":12.5,"titleFontSize":12.5,"titleFontWeight":"normal","labelColor":"#444","titleColor":"#444"}}},"layer":[
{"data":{"values":[{"x":0.01,"y":50},{"x":0.103,"y":50},{"x":0.103,"y":0}]},"mark":{"type":"line","stroke":"#7b5a7e","strokeWidth":1.3,"strokeDash":[6,2,1,2]},"encoding":{"order":{"value":null}}},
{"data":{"values":[{"x":0.01,"y":99.4},{"x":0.015,"y":98.5},{"x":0.02,"y":97.3},{"x":0.03,"y":93.4},{"x":0.04,"y":88},{"x":0.06,"y":76.5},{"x":0.08,"y":63.9},{"x":0.103,"y":50},{"x":0.13,"y":37.4},{"x":0.17,"y":24.9},{"x":0.22,"y":15.9},{"x":0.3,"y":8.7},{"x":0.4,"y":4.8},{"x":0.6,"y":2},{"x":1,"y":0.7},{"x":2,"y":0.15},{"x":5,"y":0},{"x":57,"y":0}]},"mark":{"type":"line","stroke":"#ff0000","strokeWidth":3.4,"interpolate":"monotone"}},
{"data":{"values":[{"x":0.103,"y":50}]},"mark":{"type":"circle","size":22,"color":"#a07a90","opacity":1}},
{"data":{"values":[{"x":0.03125,"y":91},{"x":0.0625,"y":72},{"x":0.125,"y":47},{"x":0.25,"y":3},{"x":0.5,"y":0.5},{"x":1,"y":0},{"x":2,"y":0},{"x":4,"y":0},{"x":16,"y":0}]},"mark":{"type":"point","shape":"M-1,-1L1,1M-1,1L1,-1","size":135,"stroke":"#000","strokeWidth":1.8,"filled":false,"opacity":1}},
{"data":{"values":[{"x":0.66,"y":133}]},"layer":[
{"mark":{"type":"text","text":"Abs EC","align":"right","dx":-20.8,"font":"Liberation Sans","fontWeight":"bold","fontSize":12.5,"color":"#111"}},
{"mark":{"type":"text","text":"50","align":"left","dx":-20.8,"dy":4,"font":"Liberation Sans","fontWeight":"bold","fontSize":9,"color":"#111"}},
{"mark":{"type":"text","text":"=0.103µg/mL","align":"left","dx":-10.3,"font":"Liberation Sans","fontWeight":"bold","fontSize":12.5,"color":"#111"}}]}]},
{"encoding":{"x":{"field":"x","type":"quantitative","scale":{"type":"log","domain":[0.332,216],"range":[289.3,446],"nice":false},"axis":{"orient":"bottom","offset":-46,"values":[1,10,100],"format":"~g","title":"COL [µg/mL]","titlePadding":4,"labelFont":"Liberation Sans","titleFont":"Liberation Sans","labelFontSize":12.5,"titleFontSize":12.5,"titleFontWeight":"normal","labelColor":"#444","titleColor":"#444"}},"y":{"field":"y","type":"quantitative","scale":{"domain":[0,115.4],"range":[690,585],"nice":false},"axis":{"orient":"left","offset":-289.3,"values":[0,50,100],"title":"% Change","titlePadding":4,"labelFont":"Liberation Sans","titleFont":"Liberation Sans","labelFontSize":12.5,"titleFontSize":12.5,"titleFontWeight":"normal","labelColor":"#444","titleColor":"#444"}}},"layer":[
{"data":{"values":[{"x":0.332,"y":50},{"x":11.7,"y":50},{"x":11.7,"y":0}]},"mark":{"type":"line","stroke":"#7b5a7e","strokeWidth":1.3,"strokeDash":[6,2,1,2]},"encoding":{"order":{"value":null}}},
{"data":{"values":[{"x":0.332,"y":100},{"x":5,"y":100},{"x":7,"y":99.3},{"x":8,"y":97.8},{"x":9,"y":93},{"x":10,"y":82.7},{"x":11,"y":65},{"x":11.7,"y":50},{"x":12.5,"y":34},{"x":13.5,"y":19},{"x":15,"y":7.6},{"x":17,"y":2.3},{"x":20,"y":0.5},{"x":30,"y":0},{"x":216,"y":0}]},"mark":{"type":"line","stroke":"#ff0000","strokeWidth":3.4,"interpolate":"monotone"}},
{"data":{"values":[{"x":11.7,"y":50}]},"mark":{"type":"circle","size":22,"color":"#a07a90","opacity":1}},
{"data":{"values":[{"x":1,"y":105},{"x":2,"y":105},{"x":4,"y":104.5},{"x":8,"y":100},{"x":16,"y":2.5},{"x":32,"y":0}]},"mark":{"type":"point","shape":"M-1,-1L1,1M-1,1L1,-1","size":135,"stroke":"#000","strokeWidth":1.8,"filled":false,"opacity":1}},
{"data":{"values":[{"x":7.9,"y":132}]},"layer":[
{"mark":{"type":"text","text":"Abs EC","align":"right","dx":-17.4,"font":"Liberation Sans","fontWeight":"bold","fontSize":12.5,"color":"#111"}},
{"mark":{"type":"text","text":"50","align":"left","dx":-17.4,"dy":4,"font":"Liberation Sans","fontWeight":"bold","fontSize":9,"color":"#111"}},
{"mark":{"type":"text","text":"=11.7µg/mL","align":"left","dx":-6.9,"font":"Liberation Sans","fontWeight":"bold","fontSize":12.5,"color":"#111"}}]}]},

{"encoding":{"x":{"field":"x","type":"quantitative","scale":{"type":"log","domain":[0.01,40],"range":[512.3,665],"nice":false},"axis":{"orient":"bottom","offset":-45,"values":[0.01,0.1,1,10],"format":"~g","title":"AMB [µg/mL]","titlePadding":4,"labelFont":"Liberation Sans","titleFont":"Liberation Sans","labelFontSize":12.5,"titleFontSize":12.5,"titleFontWeight":"normal","labelColor":"#444","titleColor":"#444"}},"y":{"field":"y","type":"quantitative","scale":{"domain":[0,116.6],"range":[691,585.7],"nice":false},"axis":{"orient":"left","offset":-512.3,"values":[0,50,100],"title":"% Change","titlePadding":4,"labelFont":"Liberation Sans","titleFont":"Liberation Sans","labelFontSize":12.5,"titleFontSize":12.5,"titleFontWeight":"normal","labelColor":"#444","titleColor":"#444"}}},"layer":[
{"data":{"values":[{"x":0.01,"y":50},{"x":0.107,"y":50},{"x":0.107,"y":0}]},"mark":{"type":"line","stroke":"#7b5a7e","strokeWidth":1.3,"strokeDash":[6,2,1,2]},"encoding":{"order":{"value":null}}},
{"data":{"values":[{"x":0.01,"y":99.5},{"x":0.015,"y":98.6},{"x":0.02,"y":97.5},{"x":0.03,"y":94},{"x":0.04,"y":89},{"x":0.06,"y":78},{"x":0.08,"y":65.5},{"x":0.107,"y":50},{"x":0.135,"y":37.4},{"x":0.177,"y":24.9},{"x":0.23,"y":15.9},{"x":0.31,"y":8.7},{"x":0.42,"y":4.8},{"x":0.62,"y":2},{"x":1,"y":0.7},{"x":2,"y":0.15},{"x":5,"y":0},{"x":40,"y":0}]},"mark":{"type":"line","stroke":"#ff0000","strokeWidth":3.4,"interpolate":"monotone"}},
{"data":{"values":[{"x":0.107,"y":50}]},"mark":{"type":"circle","size":22,"color":"#a07a90","opacity":1}},
{"data":{"values":[{"x":0.03125,"y":92},{"x":0.0625,"y":71},{"x":0.125,"y":52},{"x":0.25,"y":1},{"x":0.5,"y":0.5},{"x":1,"y":0},{"x":2,"y":0},{"x":4,"y":0},{"x":16,"y":0}]},"mark":{"type":"point","shape":"M-1,-1L1,1M-1,1L1,-1","size":135,"stroke":"#000","strokeWidth":1.8,"filled":false,"opacity":1}},
{"data":{"values":[{"x":0.68,"y":133}]},"layer":[
{"mark":{"type":"text","text":"Abs EC","align":"right","dx":-20.8,"font":"Liberation Sans","fontWeight":"bold","fontSize":12.5,"color":"#111"}},
{"mark":{"type":"text","text":"50","align":"left","dx":-20.8,"dy":4,"font":"Liberation Sans","fontWeight":"bold","fontSize":9,"color":"#111"}},
{"mark":{"type":"text","text":"=0.107µg/mL","align":"left","dx":-10.3,"font":"Liberation Sans","fontWeight":"bold","fontSize":12.5,"color":"#111"}}]}]},
{"encoding":{"x":{"field":"x","type":"quantitative","scale":{"type":"log","domain":[0.315,207],"range":[706,863.3],"nice":false},"axis":{"orient":"bottom","offset":-47,"values":[1,10,100],"format":"~g","title":"COL [µg/mL]","titlePadding":4,"labelFont":"Liberation Sans","titleFont":"Liberation Sans","labelFontSize":12.5,"titleFontSize":12.5,"titleFontWeight":"normal","labelColor":"#444","titleColor":"#444"}},"y":{"field":"y","type":"quantitative","scale":{"domain":[0,114.6],"range":[689,584.3],"nice":false},"axis":{"orient":"left","offset":-706,"values":[0,50,100],"title":"% Change","titlePadding":4,"labelFont":"Liberation Sans","titleFont":"Liberation Sans","labelFontSize":12.5,"titleFontSize":12.5,"titleFontWeight":"normal","labelColor":"#444","titleColor":"#444"}}},"layer":[
{"data":{"values":[{"x":0.315,"y":50},{"x":11.5,"y":50},{"x":11.5,"y":0}]},"mark":{"type":"line","stroke":"#7b5a7e","strokeWidth":1.3,"strokeDash":[6,2,1,2]},"encoding":{"order":{"value":null}}},
{"data":{"values":[{"x":0.315,"y":100},{"x":5,"y":100},{"x":7,"y":99.1},{"x":8,"y":97.5},{"x":9,"y":92},{"x":10,"y":80},{"x":10.8,"y":63},{"x":11.5,"y":50},{"x":12.3,"y":34},{"x":13.3,"y":19},{"x":14.8,"y":7.6},{"x":17,"y":2},{"x":20,"y":0.4},{"x":30,"y":0},{"x":207,"y":0}]},"mark":{"type":"line","stroke":"#ff0000","strokeWidth":3.4,"interpolate":"monotone"}},
{"data":{"values":[{"x":11.5,"y":50}]},"mark":{"type":"circle","size":22,"color":"#a07a90","opacity":1}},
{"data":{"values":[{"x":1,"y":102},{"x":2,"y":105},{"x":4,"y":107},{"x":8,"y":100},{"x":16,"y":0.8},{"x":32,"y":0.4}]},"mark":{"type":"point","shape":"M-1,-1L1,1M-1,1L1,-1","size":135,"stroke":"#000","strokeWidth":1.8,"filled":false,"opacity":1}},
{"data":{"values":[{"x":7.64,"y":131.4}]},"layer":[
{"mark":{"type":"text","text":"Abs EC","align":"right","dx":-17.4,"font":"Liberation Sans","fontWeight":"bold","fontSize":12.5,"color":"#111"}},
{"mark":{"type":"text","text":"50","align":"left","dx":-17.4,"dy":4,"font":"Liberation Sans","fontWeight":"bold","fontSize":9,"color":"#111"}},
{"mark":{"type":"text","text":"=11.5µg/mL","align":"left","dx":-6.9,"font":"Liberation Sans","fontWeight":"bold","fontSize":12.5,"color":"#111"}}]}]},

{"encoding":{"x":{"field":"x","type":"quantitative","scale":{"type":"log","domain":[0.01,37.7],"range":[938.3,1087.3],"nice":false},"axis":{"orient":"bottom","offset":-46,"values":[0.01,0.1,1,10],"format":"~g","title":"AMB [µg/mL]","titlePadding":4,"labelFont":"Liberation Sans","titleFont":"Liberation Sans","labelFontSize":12.5,"titleFontSize":12.5,"titleFontWeight":"normal","labelColor":"#444","titleColor":"#444"}},"y":{"field":"y","type":"quantitative","scale":{"domain":[0,115.9],"range":[690,585.7],"nice":false},"axis":{"orient":"left","offset":-938.3,"values":[0,50,100],"title":"% Change","titlePadding":4,"labelFont":"Liberation Sans","titleFont":"Liberation Sans","labelFontSize":12.5,"titleFontSize":12.5,"titleFontWeight":"normal","labelColor":"#444","titleColor":"#444"}}},"layer":[
{"data":{"values":[{"x":0.01,"y":50},{"x":0.09,"y":50},{"x":0.09,"y":0}]},"mark":{"type":"line","stroke":"#7b5a7e","strokeWidth":1.3,"strokeDash":[6,2,1,2]},"encoding":{"order":{"value":null}}},
{"data":{"values":[{"x":0.01,"y":99.2},{"x":0.015,"y":98},{"x":0.02,"y":96.6},{"x":0.03,"y":91.8},{"x":0.04,"y":85.6},{"x":0.06,"y":71.5},{"x":0.07,"y":63.9},{"x":0.09,"y":50},{"x":0.114,"y":37.4},{"x":0.149,"y":24.9},{"x":0.192,"y":15.9},{"x":0.262,"y":8.7},{"x":0.35,"y":4.8},{"x":0.52,"y":2},{"x":0.87,"y":0.7},{"x":1.75,"y":0.15},{"x":5,"y":0},{"x":37.7,"y":0}]},"mark":{"type":"line","stroke":"#ff0000","strokeWidth":3.4,"interpolate":"monotone"}},
{"data":{"values":[{"x":0.09,"y":50}]},"mark":{"type":"circle","size":22,"color":"#a07a90","opacity":1}},
{"data":{"values":[{"x":0.03125,"y":100},{"x":0.0625,"y":62},{"x":0.125,"y":38},{"x":0.25,"y":11},{"x":0.5,"y":0.5},{"x":1,"y":0.5},{"x":2,"y":0},{"x":4,"y":0},{"x":8,"y":0},{"x":16,"y":0}]},"mark":{"type":"point","shape":"M-1,-1L1,1M-1,1L1,-1","size":135,"stroke":"#000","strokeWidth":1.8,"filled":false,"opacity":1}},
{"data":{"values":[{"x":0.69,"y":134}]},"layer":[
{"mark":{"type":"text","text":"Abs EC","align":"right","dx":-20.8,"font":"Liberation Sans","fontWeight":"bold","fontSize":12.5,"color":"#111"}},
{"mark":{"type":"text","text":"50","align":"left","dx":-20.8,"dy":4,"font":"Liberation Sans","fontWeight":"bold","fontSize":9,"color":"#111"}},
{"mark":{"type":"text","text":"=9e-02µg/mL","align":"left","dx":-10.3,"font":"Liberation Sans","fontWeight":"bold","fontSize":12.5,"color":"#111"}}]}]},
{"encoding":{"x":{"field":"x","type":"quantitative","scale":{"type":"log","domain":[0.314,233],"range":[1131.7,1293.3],"nice":false},"axis":{"orient":"bottom","offset":-43.7,"values":[1,10,100],"format":"~g","title":"COL [µg/mL]","titlePadding":4,"labelFont":"Liberation Sans","titleFont":"Liberation Sans","labelFontSize":12.5,"titleFontSize":12.5,"titleFontWeight":"normal","labelColor":"#444","titleColor":"#444"}},"y":{"field":"y","type":"quantitative","scale":{"domain":[0,115.5],"range":[692.3,585.7],"nice":false},"axis":{"orient":"left","offset":-1131.7,"values":[0,50,100],"title":"% Change","titlePadding":4,"labelFont":"Liberation Sans","titleFont":"Liberation Sans","labelFontSize":12.5,"titleFontSize":12.5,"titleFontWeight":"normal","labelColor":"#444","titleColor":"#444"}}},"layer":[
{"data":{"values":[{"x":0.314,"y":50},{"x":23,"y":50},{"x":23,"y":0}]},"mark":{"type":"line","stroke":"#7b5a7e","strokeWidth":1.3,"strokeDash":[6,2,1,2]},"encoding":{"order":{"value":null}}},
{"data":{"values":[{"x":0.314,"y":100},{"x":10,"y":100},{"x":14,"y":99.4},{"x":16,"y":97.8},{"x":18,"y":92.5},{"x":20,"y":80},{"x":21.5,"y":66},{"x":23,"y":50},{"x":24.5,"y":35},{"x":26.5,"y":19},{"x":30,"y":6.5},{"x":34,"y":2},{"x":40,"y":0.4},{"x":60,"y":0},{"x":233,"y":0}]},"mark":{"type":"line","stroke":"#ff0000","strokeWidth":3.4,"interpolate":"monotone"}},
{"data":{"values":[{"x":23,"y":50}]},"mark":{"type":"circle","size":22,"color":"#a07a90","opacity":1}},
{"data":{"values":[{"x":1,"y":100},{"x":2,"y":100},{"x":4,"y":100},{"x":8,"y":100},{"x":16,"y":100},{"x":32,"y":2},{"x":64,"y":1}]},"mark":{"type":"point","shape":"M-1,-1L1,1M-1,1L1,-1","size":135,"stroke":"#000","strokeWidth":1.8,"filled":false,"opacity":1}},
{"data":{"values":[{"x":8.05,"y":133.6}]},"layer":[
{"mark":{"type":"text","text":"Abs EC","align":"right","dx":-17.4,"font":"Liberation Sans","fontWeight":"bold","fontSize":12.5,"color":"#111"}},
{"mark":{"type":"text","text":"50","align":"left","dx":-17.4,"dy":4,"font":"Liberation Sans","fontWeight":"bold","fontSize":9,"color":"#111"}},
{"mark":{"type":"text","text":"=23.0µg/mL","align":"left","dx":-6.9,"font":"Liberation Sans","fontWeight":"bold","fontSize":12.5,"color":"#111"}}]}]}
]}
